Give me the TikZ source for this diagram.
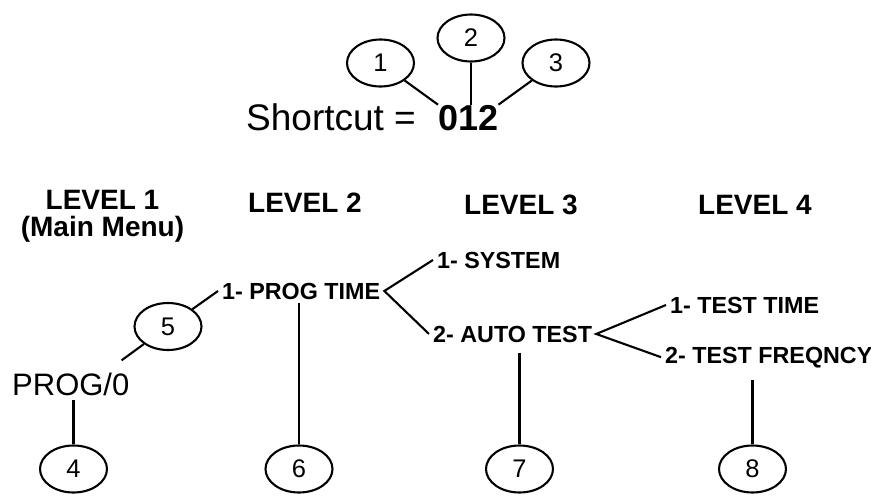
\documentclass[tikz,border=0pt]{standalone}
\usepackage{fontspec}
\setmainfont{Liberation Sans}
\usetikzlibrary{shapes.geometric}
\tikzstyle{bubble}=[ellipse, draw, line width=2.1pt, minimum width=67pt, minimum height=47pt, inner sep=0pt, font=\fontsize{25.5}{30}\selectfont]
\tikzstyle{item}=[anchor=base west, inner sep=4pt, font=\bfseries\fontsize{23.3}{27}\selectfont]
\tikzstyle{level}=[anchor=north, align=center, inner sep=0pt, font=\bfseries\fontsize{28}{27}\selectfont]
\tikzstyle{link}=[line width=2.1pt]
\begin{document}
\begin{tikzpicture}[x=1pt, y=-1pt]
\useasboundingbox (0,0) rectangle (871,496);

\node[anchor=base west, inner sep=0pt, font=\fontsize{37}{37}\selectfont] (sc) at (246,130) {Shortcut =};
\node[anchor=base west, inner sep=0pt, font=\bfseries\fontsize{36}{36}\selectfont] (code) at (438,130) {012};

\node[bubble] (c1) at (380.5,63) {1};
\node[bubble] (c2) at (471,38) {2};
\node[bubble] (c3) at (556,63) {3};

\draw[link] (c1) -- (code.north west);
\draw[link] (c2) -- (c2 |- code.north);
\draw[link] (c3) -- (code.north east);

\node[level] (l1) at (102.5,190) {LEVEL 1\\(Main Menu)};
\node[level] (l2) at (305,193) {LEVEL 2};
\node[level] (l3) at (521,195) {LEVEL 3};
\node[level] (l4) at (755,195) {LEVEL 4};

\node[anchor=base west, inner sep=4pt, font=\fontsize{31}{31}\selectfont] (prog) at (8,395) {PROG/0};
\node[item] (pt) at (218,299) {1- PROG TIME};
\node[item] (sys) at (433,268) {1- SYSTEM};
\node[item] (auto) at (429,342) {2- AUTO TEST};
\node[item] (tt) at (666,313) {1- TEST TIME};
\node[item] (tf) at (661,363) {2- TEST FREQNCY};

\node[bubble] (c5) at (168,326.5) {5};
\node[bubble] (c4) at (73.5,469) {4};
\node[bubble] (c6) at (299,469) {6};
\node[bubble] (c7) at (519.5,469) {7};
\node[bubble] (c8) at (752.5,469) {8};

\draw[link] (c5) -- (pt.west);
\draw[link] (c5) -- ([shift={(-12pt,8pt)}]prog.north east);
\draw[link] (sys.west) -- (pt.east) -- (auto.west);
\draw[link] (tt.west) -- (auto.east) -- (tf.west);

\draw[link] (c4) -- (c4 |- prog.south);
\draw[link] (c6) -- (c6 |- pt.south);
\draw[link, shorten >=7pt] (c7) -- (c7 |- auto.south);
\draw[link, shorten >=8pt] (c8) -- (c8 |- tf.south);

\end{tikzpicture}
\end{document}
